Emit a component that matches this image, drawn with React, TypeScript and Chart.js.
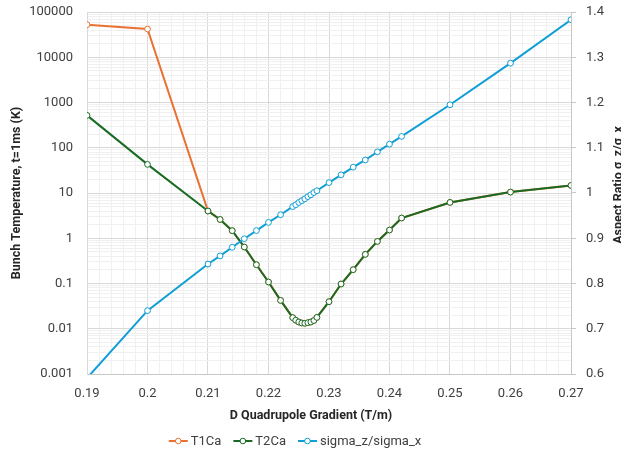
import React, { useEffect, useRef } from "react";
import { Chart, registerables } from "chart.js";

Chart.register(...registerables);

// ---- data ----
const gradients = [
  0.19, 0.2, 0.21, 0.212, 0.214, 0.216, 0.218, 0.22, 0.222, 0.224, 0.2245, 0.225,
  0.2255, 0.226, 0.2265, 0.227, 0.2275, 0.228, 0.23, 0.232, 0.234, 0.236, 0.238,
  0.24, 0.242, 0.25, 0.26, 0.27,
];
const t1Ca = [
  52400, 42100, 4.0, 2.6, 1.47, 0.64, 0.26, 0.108, 0.0423, 0.0176, 0.01545, 0.0141,
  0.0134, 0.0132, 0.0136, 0.0141, 0.0152, 0.0178, 0.0396, 0.0975, 0.202, 0.44, 0.851,
  1.52, 2.8, 6.19, 10.5, 14.7,
];
const t2Ca = [
  519, 42.9, 4.0, 2.6, 1.47, 0.64, 0.26, 0.108, 0.0423, 0.0176, 0.01545, 0.0141,
  0.0134, 0.0132, 0.0136, 0.0141, 0.0152, 0.0178, 0.0396, 0.0975, 0.202, 0.44, 0.851,
  1.52, 2.8, 6.19, 10.5, 14.7,
];
const sigmaRatio = [
  0.591, 0.74, 0.843, 0.861, 0.88, 0.899, 0.917, 0.935, 0.952, 0.97, 0.974, 0.979,
  0.983, 0.987, 0.992, 0.996, 1.001, 1.005, 1.023, 1.04, 1.057, 1.073, 1.091, 1.108,
  1.125, 1.195, 1.287, 1.383,
];
const seriesLabels = ["T1Ca", "T2Ca", "sigma_z/sigma_x"];
const seriesColors = ["#E97132", "#196B24", "#0F9ED5"];

const xTicks = [0.19, 0.2, 0.21, 0.22, 0.23, 0.24, 0.25, 0.26, 0.27];
const xTickLabels = ["0.19", "0.2", "0.21", "0.22", "0.23", "0.24", "0.25", "0.26", "0.27"];
const xMinorStep = 0.002;
const yLeftTicks = [0.001, 0.01, 0.1, 1, 10, 100, 1000, 10000, 100000];
const yLeftTickLabels = ["0.001", "0.01", "0.1", "1", "10", "100", "1000", "10000", "100000"];
const yRightTicks = [0.6, 0.7, 0.8, 0.9, 1.0, 1.1, 1.2, 1.3, 1.4];
const yRightTickLabels = ["0.6", "0.7", "0.8", "0.9", "1", "1.1", "1.2", "1.3", "1.4"];

const xTitle = "D Quadrupole Gradient (T/m)";
const yLeftTitle = "Bunch Temperature, t=1ms (K)";
const yRightTitle = "Aspect Ratio σ_z/σ_x";

const FONT = "Roboto";
const TICK_COLOR = "#404040";
const TITLE_COLOR = "#262626";
const MAJOR_GRID = "#d9d9d9";
const MINOR_GRID = "#f0f0f0";

const near = (a: number, b: number) => Math.abs(a - b) < 1e-9 * Math.max(1, Math.abs(b));

const titlesPlugin = {
  id: "customTitles",
  afterDraw(chart: any) {
    const { ctx, chartArea } = chart;
    const cy = (chartArea.top + chartArea.bottom) / 2;
    ctx.save();
    ctx.fillStyle = TITLE_COLOR;
    ctx.font = `bold 12.5px ${FONT}`;
    ctx.textAlign = "center";
    ctx.textBaseline = "middle";
    ctx.fillText(xTitle, 311, 416);

    ctx.textBaseline = "alphabetic";
    ctx.save();
    ctx.translate(19.5, cy);
    ctx.rotate(-Math.PI / 2);
    ctx.fillText(yLeftTitle, 0, 0);
    ctx.restore();

    ctx.save();
    ctx.translate(622, cy - 8);
    ctx.rotate(-Math.PI / 2);
    ctx.fillText(yRightTitle, 0, 0);
    ctx.restore();

    // legend
    ctx.font = `13px ${FONT}`;
    ctx.textAlign = "left";
    ctx.textBaseline = "middle";
    const markerW = 19;
    const gap = 3;
    const itemGap = 12;
    const widths = seriesLabels.map((l) => ctx.measureText(l).width);
    const total =
      widths.reduce((s, w) => s + markerW + gap + w, 0) + itemGap * (seriesLabels.length - 1);
    let x = 295 - total / 2;
    const y = 441;
    seriesLabels.forEach((label, i) => {
      ctx.strokeStyle = seriesColors[i];
      ctx.lineWidth = 2;
      ctx.beginPath();
      ctx.moveTo(x, y);
      ctx.lineTo(x + markerW, y);
      ctx.stroke();
      ctx.beginPath();
      ctx.arc(x + markerW / 2, y, 2.8, 0, Math.PI * 2);
      ctx.fillStyle = "#ffffff";
      ctx.fill();
      ctx.lineWidth = 1;
      ctx.stroke();
      ctx.fillStyle = TICK_COLOR;
      ctx.fillText(label, x + markerW + gap, y + 0.5);
      x += markerW + gap + widths[i] + itemGap;
    });
    ctx.restore();
  },
};

export default function App() {
  const canvasRef = useRef<HTMLCanvasElement | null>(null);

  useEffect(() => {
    document.body.style.margin = "0";
    const canvas = canvasRef.current;
    if (!canvas) return;

    const mk = (vals: number[]) => gradients.map((g, i) => ({ x: g, y: vals[i] }));
    const seriesData = [mk(t1Ca), mk(t2Ca), mk(sigmaRatio)];
    const axisIds = ["y", "y", "yR"];
    const orders = [2, 1, 0];

    const chart = new Chart(canvas, {
      type: "line",
      data: {
        datasets: seriesData.map((d, i) => ({
          label: seriesLabels[i],
          data: d,
          yAxisID: axisIds[i],
          order: orders[i],
          borderColor: seriesColors[i],
          backgroundColor: seriesColors[i],
          borderWidth: 2,
          pointRadius: 2.9,
          pointBorderWidth: 1,
          pointBackgroundColor: "#ffffff",
          pointBorderColor: seriesColors[i],
          tension: 0,
          fill: false,
        })),
      },
      options: {
        animation: false,
        responsive: true,
        maintainAspectRatio: false,
        layout: { padding: { top: 12, left: 0, right: 0, bottom: 0 } },
        plugins: {
          legend: { display: false },
          tooltip: { enabled: false },
          title: { display: false },
        },
        scales: {
          x: {
            type: "linear",
            min: xTicks[0],
            max: xTicks[xTicks.length - 1],
            afterBuildTicks: (scale: any) => {
              const t: any[] = [];
              const n = Math.round((scale.max - scale.min) / xMinorStep);
              for (let i = 0; i <= n; i++) t.push({ value: +(scale.min + i * xMinorStep).toFixed(4) });
              scale.ticks = t;
            },
            afterFit: (scale: any) => {
              scale.height = 85;
              scale.paddingLeft = 0;
              scale.paddingRight = 0;
            },
            ticks: {
              autoSkip: false,
              maxRotation: 0,
              padding: 12,
              color: TICK_COLOR,
              font: { family: FONT, size: 13 },
              callback: (v: any) => {
                const idx = xTicks.findIndex((t) => near(t, Number(v)));
                return idx >= 0 ? xTickLabels[idx] : "";
              },
            },
            grid: {
              drawTicks: false,
              color: (ctx: any) =>
                ctx.tick && xTicks.some((t) => near(t, ctx.tick.value)) ? MAJOR_GRID : MINOR_GRID,
            },
            border: { color: "#c8c8c8" },
          },
          y: {
            type: "logarithmic",
            position: "left",
            min: yLeftTicks[0],
            max: yLeftTicks[yLeftTicks.length - 1],
            afterBuildTicks: (scale: any) => {
              const t: any[] = [];
              yLeftTicks.forEach((d, i) => {
                t.push({ value: d, major: true });
                if (i < yLeftTicks.length - 1) {
                  for (let m = 2; m <= 9; m++) t.push({ value: +(d * m).toPrecision(3), major: false });
                }
              });
              scale.ticks = t;
            },
            afterFit: (scale: any) => {
              scale.width = 87;
              scale.paddingTop = 0;
              scale.paddingBottom = 0;
            },
            ticks: {
              autoSkip: false,
              padding: 14,
              color: TICK_COLOR,
              font: { family: FONT, size: 13 },
              callback: (v: any) => {
                const idx = yLeftTicks.findIndex((t) => near(t, Number(v)));
                return idx >= 0 ? yLeftTickLabels[idx] : "";
              },
            },
            grid: {
              drawTicks: false,
              color: (ctx: any) =>
                ctx.tick && yLeftTicks.some((t) => near(t, ctx.tick.value)) ? MAJOR_GRID : MINOR_GRID,
            },
            border: { color: MAJOR_GRID },
          },
          yR: {
            type: "linear",
            position: "right",
            min: yRightTicks[0],
            max: yRightTicks[yRightTicks.length - 1],
            afterBuildTicks: (scale: any) => {
              scale.ticks = yRightTicks.map((v) => ({ value: v }));
            },
            afterFit: (scale: any) => {
              scale.width = 50;
              scale.paddingTop = 0;
              scale.paddingBottom = 0;
            },
            ticks: {
              autoSkip: false,
              padding: 10,
              color: TICK_COLOR,
              font: { family: FONT, size: 13 },
              callback: (v: any) => {
                const idx = yRightTicks.findIndex((t) => near(t, Number(v)));
                return idx >= 0 ? yRightTickLabels[idx] : "";
              },
            },
            grid: {
              drawOnChartArea: false,
              drawTicks: true,
              tickLength: 5,
              color: "#c8c8c8",
            },
            border: { color: "#c8c8c8" },
          },
        },
      },
      plugins: [titlesPlugin],
    } as any);

    return () => chart.destroy();
  }, []);

  return (
    <div style={{ width: 621, height: 459, position: "relative" }}>
      <canvas ref={canvasRef} />
    </div>
  );
}
